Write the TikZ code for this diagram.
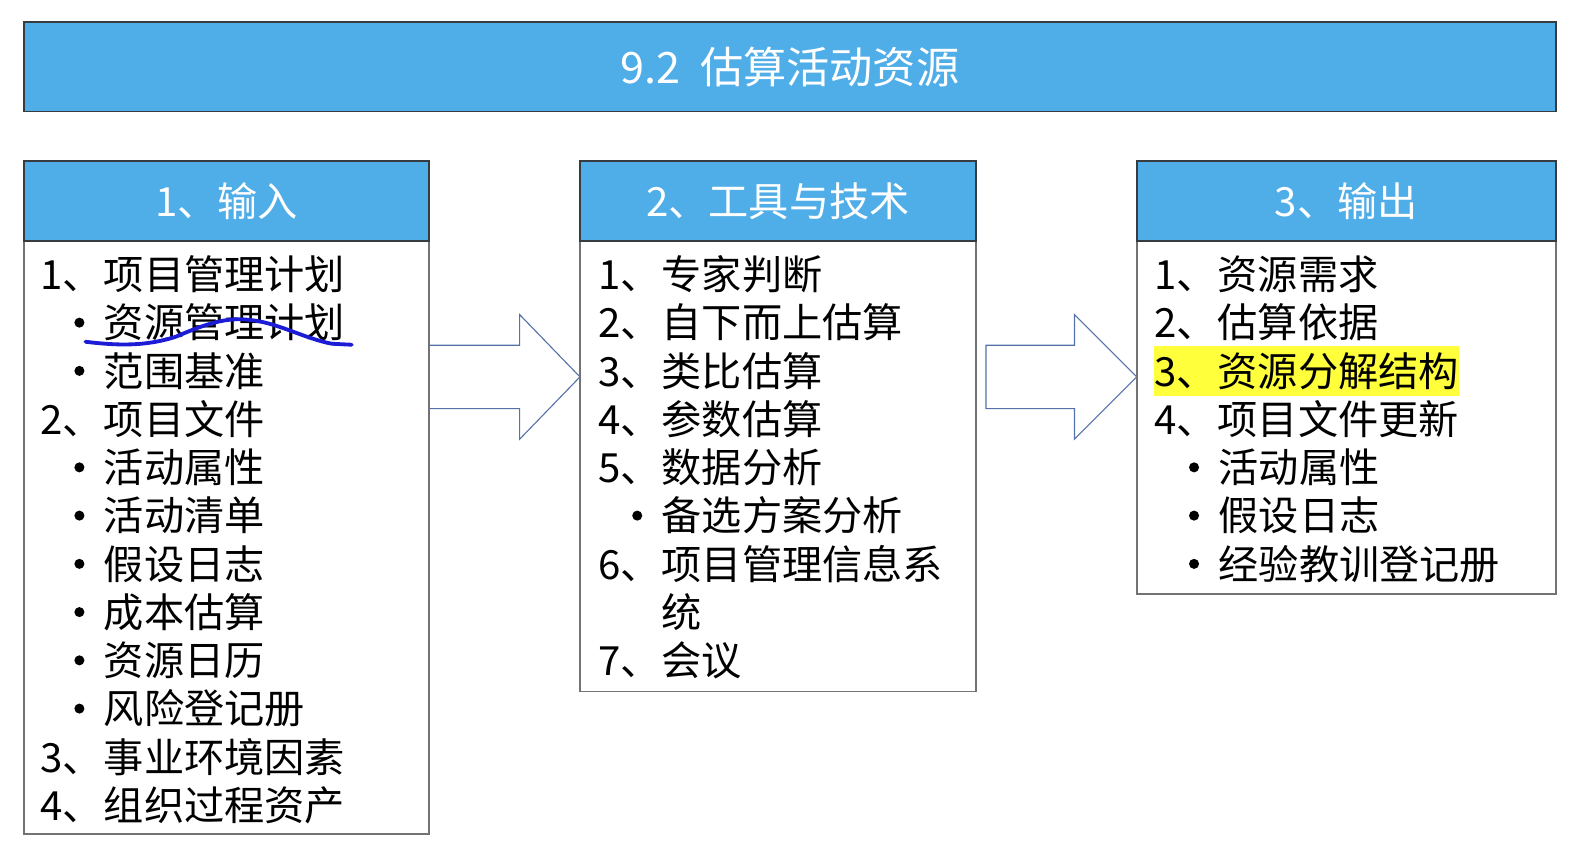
\documentclass[tikz,border=0pt]{standalone}
\usepackage{fontspec}
\setmainfont{Noto Sans CJK SC}
\definecolor{hdrblue}{RGB}{79,173,232}
\definecolor{edgedark}{RGB}{55,60,65}
\definecolor{edgegray}{RGB}{115,115,115}
\definecolor{arrowblue}{RGB}{84,114,168}
\definecolor{penblue}{RGB}{28,28,215}
\definecolor{hlyellow}{RGB}{255,255,60}
\newcommand\nm[1]{\makebox[31.5pt][l]{#1、}}
\begin{document}
\begin{tikzpicture}[x=0.5pt,y=-0.5pt,
  titlebox/.style={draw=edgedark, line width=0.8pt, fill=hdrblue, text=white, inner sep=0pt, font=\fontsize{21.5pt}{26pt}\selectfont},
  hdrbox/.style={draw=edgedark, line width=0.8pt, fill=hdrblue, text=white, inner sep=0pt, font=\fontsize{20pt}{24pt}\selectfont},
  bodybox/.style={draw=edgegray, line width=0.8pt, fill=white, inner sep=0pt},
  item/.style={anchor=west, inner sep=0pt, font=\fontsize{20pt}{24pt}\selectfont},
  blockarrow/.style={draw=arrowblue, line width=0.55pt, fill=white, line join=miter},
  dot/.style={fill=black},
  pen/.style={draw=penblue, line width=1.9pt, line cap=round, line join=round}
]
\useasboundingbox (0,0) rectangle (1568,860);

% title
\node[titlebox, minimum width=762pt, minimum height=44.5pt] (title) at (786,66.5) {9.2\hspace{0.45em}估算活动资源};

% arrows
\coordinate (a1) at (427,375);
\coordinate (a2) at (981,375);
\draw[blockarrow] (a1) ++(0,-31.5) -- ++(90,0) -- ++(0,-30.5) -- ++(60,62) -- ++(-60,62) -- ++(0,-30.5) -- ++(-90,0) -- cycle;
\draw[blockarrow] (a2) ++(0,-31.5) -- ++(88,0) -- ++(0,-30.5) -- ++(62,62) -- ++(-62,62) -- ++(0,-30.5) -- ++(-88,0) -- cycle;

% column boxes
\node[bodybox, minimum width=201.5pt, minimum height=295pt] (b1) at (225.5,535) {};
\node[hdrbox, minimum width=201.5pt, minimum height=40pt] (h1) at (225.5,200) {1、输入};
\node[bodybox, minimum width=197pt, minimum height=224pt] (b2) at (774,464) {};
\node[hdrbox, minimum width=197pt, minimum height=40pt] (h2) at (774,200) {2、工具与技术};
\node[bodybox, minimum width=208.5pt, minimum height=175.5pt] (b3) at (1339.5,415.5) {};
\node[hdrbox, minimum width=208.5pt, minimum height=40pt] (h3) at (1339.5,200) {3、输出};

% column 1
\node[item] (i1) at (40,273) {\nm{1}项目管理计划};
\node[item] (i2) at (103,321) {资源管理计划};
\node[item] (i3) at (103,369) {范围基准};
\node[item] (i4) at (40,417) {\nm{2}项目文件};
\node[item] (i5) at (103,465) {活动属性};
\node[item] (i6) at (103,513) {活动清单};
\node[item] (i7) at (103,561) {假设日志};
\node[item] (i8) at (103,609) {成本估算};
\node[item] (i9) at (103,657) {资源日历};
\node[item] (i10) at (103,705) {风险登记册};
\node[item] (i11) at (40,753) {\nm{3}事业环境因素};
\node[item] (i12) at (40,801) {\nm{4}组织过程资产};
\foreach \y in {321,369,465,513,561,609,657,705} \fill[dot] (79,\y) circle (5);

% column 2
\node[item] (t1) at (595,273) {\nm{1}专家判断};
\node[item] (t2) at (595,321) {\nm{2}自下而上估算};
\node[item] (t3) at (595,369) {\nm{3}类比估算};
\node[item] (t4) at (595,417) {\nm{4}参数估算};
\node[item] (t5) at (595,465) {\nm{5}数据分析};
\node[item] (t6) at (658,513) {备选方案分析};
\node[item] (t7) at (595,561) {\nm{6}项目管理信息系};
\node[item] (t8) at (658,609) {统};
\node[item] (t9) at (595,657) {\nm{7}会议};
\fill[dot] (634,513) circle (5);

% column 3
\node[item] (o1) at (1148,273) {\nm{1}资源需求};
\node[item] (o2) at (1148,321) {\nm{2}估算依据};
\node[item, fill=hlyellow, minimum height=24.5pt] (o3) at (1148,369) {\nm{3}资源分解结构};
\node[item] (o4) at (1148,417) {\nm{4}项目文件更新};
\node[item] (o5) at (1212,465) {活动属性};
\node[item] (o6) at (1212,513) {假设日志};
\node[item] (o7) at (1212,561) {经验教训登记册};
\foreach \y in {465,513,561} \fill[dot] (1188,\y) circle (5);

% hand-drawn underline
\draw[pen] (85,340) .. controls (125,345) and (150,343) .. (175,335) .. controls (205,322) and (225,316) .. (245,318) .. controls (275,320) and (300,336) .. (330,342) -- (350,343);
\end{tikzpicture}
\end{document}
